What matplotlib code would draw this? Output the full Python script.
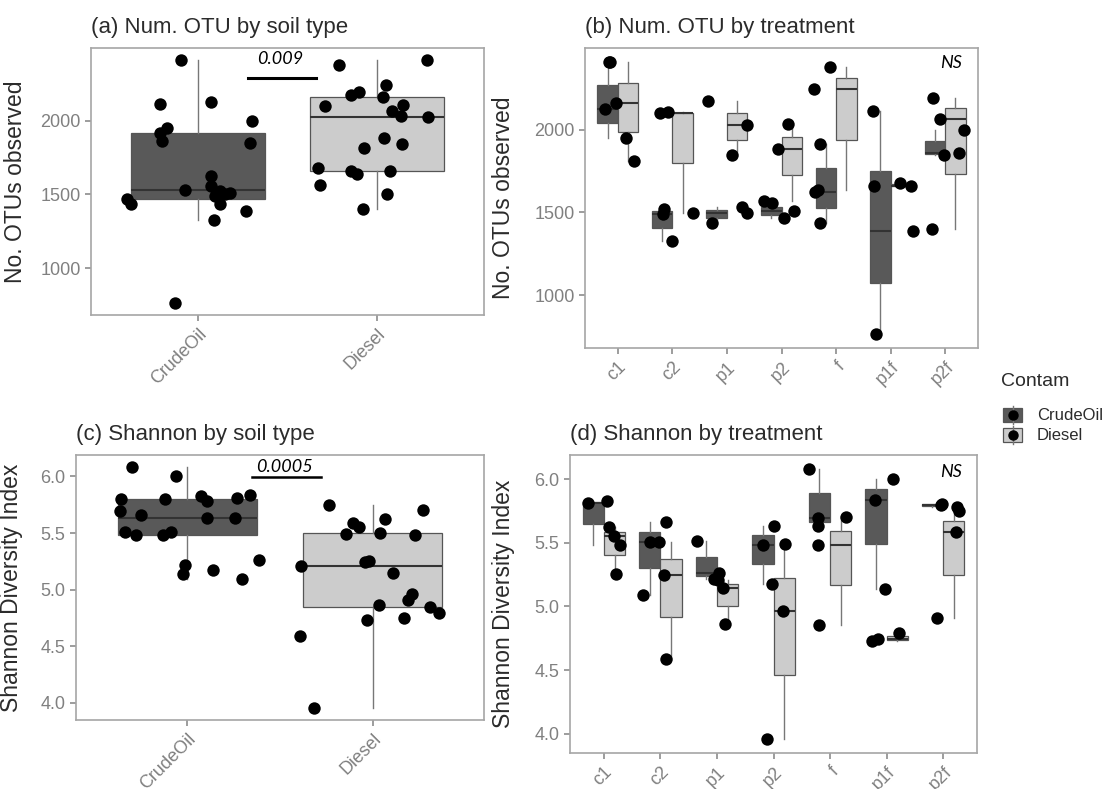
import numpy as np
import matplotlib
matplotlib.use('Agg')
import matplotlib.pyplot as plt
from matplotlib.patches import Rectangle
from matplotlib.lines import Line2D

plt.rcParams['font.family'] = ['Liberation Sans', 'DejaVu Sans']

# Treatments and soil types
treatments = ['c1', 'c2', 'p1', 'p2', 'f', 'p1f', 'p2f']
soils = ['CrudeOil', 'Diesel']

# Number of OTUs observed, 3 reps per treatment
otu_crude = [[1952, 2123, 2410], [1325, 1491, 1523], [1434, 1499, 1531], [1465, 1507, 1556],
             [1434, 1622, 1915], [764, 1390, 2113], [1848, 1861, 1996]]
otu_diesel = [[1812, 2158, 2410], [1499, 2101, 2105], [1844, 2026, 2172], [1566, 1881, 2032],
              [1636, 2242, 2376], [1659, 1661, 1677], [1400, 2063, 2192]]

# Shannon diversity index
sh_crude = [[5.486, 5.81, 5.83], [5.092, 5.507, 5.66], [5.214, 5.266, 5.512], [5.175, 5.486, 5.629],
            [5.629, 5.694, 6.083], [5.141, 5.837, 6.0], [5.785, 5.80, 5.803]]
sh_diesel = [[5.253, 5.55, 5.624], [4.59, 5.245, 5.505], [4.864, 5.149, 5.21], [3.956, 4.962, 5.492],
             [4.851, 5.486, 5.70], [4.729, 4.747, 4.791], [4.911, 5.585, 5.751]]

# jitter offsets of the points (category units), same layout as the values
jit_a_crude = [[-0.177, 0.069, -0.097], [0.087, 0.093, 0.121], [-0.377, 0.149, -0.074], [-0.40, 0.177, 0.069],
               [0.121, 0.071, -0.214], [-0.13, 0.266, -0.214], [0.292, -0.204, 0.301]]
jit_a_diesel = [[-0.074, 0.035, 0.28], [0.056, -0.29, 0.147], [0.143, 0.288, -0.145], [-0.32, 0.04, 0.138],
                [-0.11, 0.05, -0.21], [0.072, -0.145, -0.33], [-0.08, 0.084, -0.10]]
jit_b_crude = [[0.16, -0.23, -0.16], [-0.01, -0.18, -0.16], [-0.27, 0.37, 0.27], [0.04, 0.23, -0.18],
               [-0.30, -0.38, -0.29], [-0.27, 0.40, -0.32], [-0.02, 0.26, 0.35]]
jit_b_diesel = [[0.29, -0.03, -0.14], [0.38, -0.23, -0.08], [0.10, 0.37, -0.35], [-0.32, -0.06, 0.12],
                [-0.34, -0.41, -0.11], [-0.30, 0.38, 0.17], [-0.24, -0.09, -0.23]]
jit_c_crude = [[-0.278, 0.269, 0.075], [0.296, -0.337, -0.247], [-0.013, 0.385, -0.09], [0.14, -0.13, 0.108],
               [0.26, -0.365, -0.30], [-0.022, 0.337, -0.063], [0.108, -0.12, -0.355]]
jit_c_diesel = [[-0.018, -0.072, 0.066], [-0.394, -0.041, 0.039], [0.036, 0.111, -0.385], [-0.319, 0.21, -0.145],
                [0.308, 0.228, 0.269], [-0.032, 0.17, 0.358], [0.19, -0.104, -0.238]]
jit_d_crude = [[0.29, -0.28, 0.06], [-0.31, -0.18, 0.09], [-0.06, 0.04, -0.35], [-0.03, -0.18, 0.01],
               [-0.22, -0.22, -0.37], [-0.03, -0.21, 0.12], [0.25, -0.03, -0.02]]
jit_d_diesel = [[0.21, 0.18, 0.09], [0.10, 0.07, -0.03], [0.15, 0.11, 0.01], [-0.12, 0.16, 0.21],
                [-0.19, -0.22, 0.28], [-0.25, -0.15, 0.22], [-0.11, 0.22, 0.28]]

dark = '#595959'
light = '#cccccc'
tick_col = '#808080'
text_col = '#2b2b2b'


def flat(groups):
    return [v for g in groups for v in g]


def draw_boxes(ax, data, pos, width, fill):
    bp = ax.boxplot(data, positions=pos, widths=width, patch_artist=True, showfliers=False,
                    showcaps=False, manage_ticks=False,
                    boxprops=dict(facecolor=fill, edgecolor='#555555', linewidth=0.9),
                    medianprops=dict(color='#333333', linewidth=1.5),
                    whiskerprops=dict(color='#777777', linewidth=1.0))
    return bp


def style_axes(ax, ylim, yticks, fmt):
    ax.set_ylim(ylim)
    ax.set_yticks(yticks)
    ax.set_yticklabels([fmt % t for t in yticks])
    for s in ax.spines.values():
        s.set_color('#a6a6a6')
        s.set_linewidth(1.2)
    ax.tick_params(colors='#8c8c8c', labelcolor=tick_col, labelsize=13, length=4, width=1.2)


def expand(values):
    lo, hi = min(values), max(values)
    pad = (hi - lo) * 0.05
    return lo - pad, hi + pad


otu_lim = expand(flat(otu_crude) + flat(otu_diesel))
sh_lim = expand(flat(sh_crude) + flat(sh_diesel))

fig = plt.figure(figsize=(11.09, 7.89), dpi=100)
W, H = 1109, 789


def add_ax(x0, x1, y0, y1):
    return fig.add_axes([x0 / W, 1 - y1 / H, (x1 - x0) / W, (y1 - y0) / H])


ax_a = add_ax(91, 484, 48, 315)
ax_b = add_ax(585, 978, 48, 348)
ax_c = add_ax(76, 484, 455, 720)
ax_d = add_ax(570, 977, 455, 753)


def by_soil(ax, crude, diesel, jc, jd):
    draw_boxes(ax, [flat(crude)], [1], 0.75, dark)
    draw_boxes(ax, [flat(diesel)], [2], 0.75, light)
    for x0, vals, jit in [(1, crude, jc), (2, diesel, jd)]:
        ax.scatter(x0 + np.array(flat(jit)), flat(vals), s=80, color='black', zorder=3, linewidths=0)
    ax.set_xlim(0.4, 2.6)
    ax.set_xticks([1, 2])
    ax.set_xticklabels(soils, rotation=45, ha='right', rotation_mode='anchor')


def by_treatment(ax, crude, diesel, jc, jd):
    pos = np.arange(1, len(treatments) + 1)
    draw_boxes(ax, crude, pos - 0.1875, 0.375, dark)
    draw_boxes(ax, diesel, pos + 0.1875, 0.375, light)
    for vals, jit in [(crude, jc), (diesel, jd)]:
        for i in range(len(treatments)):
            ax.scatter(pos[i] + np.array(jit[i]), vals[i], s=80, color='black', zorder=3, linewidths=0)
    ax.set_xlim(0.4, len(treatments) + 0.6)
    ax.set_xticks(pos)
    ax.set_xticklabels(treatments, rotation=45, ha='right', rotation_mode='anchor')


by_soil(ax_a, otu_crude, otu_diesel, jit_a_crude, jit_a_diesel)
by_treatment(ax_b, otu_crude, otu_diesel, jit_b_crude, jit_b_diesel)
by_soil(ax_c, sh_crude, sh_diesel, jit_c_crude, jit_c_diesel)
by_treatment(ax_d, sh_crude, sh_diesel, jit_d_crude, jit_d_diesel)

for ax in [ax_a, ax_b]:
    style_axes(ax, otu_lim, [1000, 1500, 2000], '%d')
for ax in [ax_c, ax_d]:
    style_axes(ax, sh_lim, [4.0, 4.5, 5.0, 5.5, 6.0], '%.1f')

# titles and axis labels
titles = [(ax_a, '(a) Num. OTU by soil type', 1.075), (ax_b, '(b) Num. OTU by treatment', 1.067),
          (ax_c, '(c) Shannon by soil type', 1.076), (ax_d, '(d) Shannon by treatment', 1.069)]
for ax, t, yy in titles:
    ax.text(0, yy, t, transform=ax.transAxes, fontsize=16, color=text_col, va='center', ha='left')

ax_a.set_ylabel('No. OTUs observed', fontsize=16.5, color=text_col)
ax_a.yaxis.set_label_coords(-0.163, 0.5)
ax_b.set_ylabel('No. OTUs observed', fontsize=16.5, color=text_col)
ax_b.yaxis.set_label_coords(-0.178, 0.5)
ax_c.set_ylabel('Shannon Diversity Index', fontsize=16.5, color=text_col)
ax_c.yaxis.set_label_coords(-0.13, 0.5)
ax_d.set_ylabel('Shannon Diversity Index', fontsize=16.5, color=text_col)
ax_d.yaxis.set_label_coords(-0.135, 0.5)

# significance annotations
ann_font = dict(family=['Lato', 'DejaVu Sans'], style='italic', fontsize=13, color='black')
ax_a.text(0.481, 0.959, '0.009', transform=ax_a.transAxes, ha='center', va='center', **ann_font)
ax_a.plot([0.40, 0.572], [0.888, 0.888], transform=ax_a.transAxes, color='black', lw=2.2, clip_on=False)
ax_c.text(0.512, 0.955, '0.0005', transform=ax_c.transAxes, ha='center', va='center', **ann_font)
ax_c.plot([0.431, 0.60], [0.917, 0.917], transform=ax_c.transAxes, color='black', lw=1.8, clip_on=False)
ax_b.text(0.931, 0.95, 'NS', transform=ax_b.transAxes, ha='center', va='center', **ann_font)
ax_d.text(0.936, 0.943, 'NS', transform=ax_d.transAxes, ha='center', va='center', **ann_font)

# legend drawn by hand: box key with a whisker and the point over it
fig.text(1001 / W, 1 - 381 / H, 'Contam', fontsize=14, color=text_col, ha='left', va='center')
for k, (lab, col) in enumerate(zip(soils, [dark, light])):
    yc = 415 + 20 * k
    fig.add_artist(Line2D([1012.5 / W, 1012.5 / W], [1 - (yc - 9) / H, 1 - (yc + 9) / H],
                          color='#777777', lw=1.0))
    fig.add_artist(Rectangle((1003 / W, 1 - (yc + 7) / H), 19 / W, 14 / H, facecolor=col,
                             edgecolor='#555555', lw=0.9))
    fig.add_artist(Line2D([1012.5 / W], [1 - yc / H], marker='o', ls='', color='black', markersize=6.5))
    fig.text(1037 / W, 1 - yc / H, lab, fontsize=12, color=text_col, ha='left', va='center')

fig.savefig('out.png', dpi=100)
